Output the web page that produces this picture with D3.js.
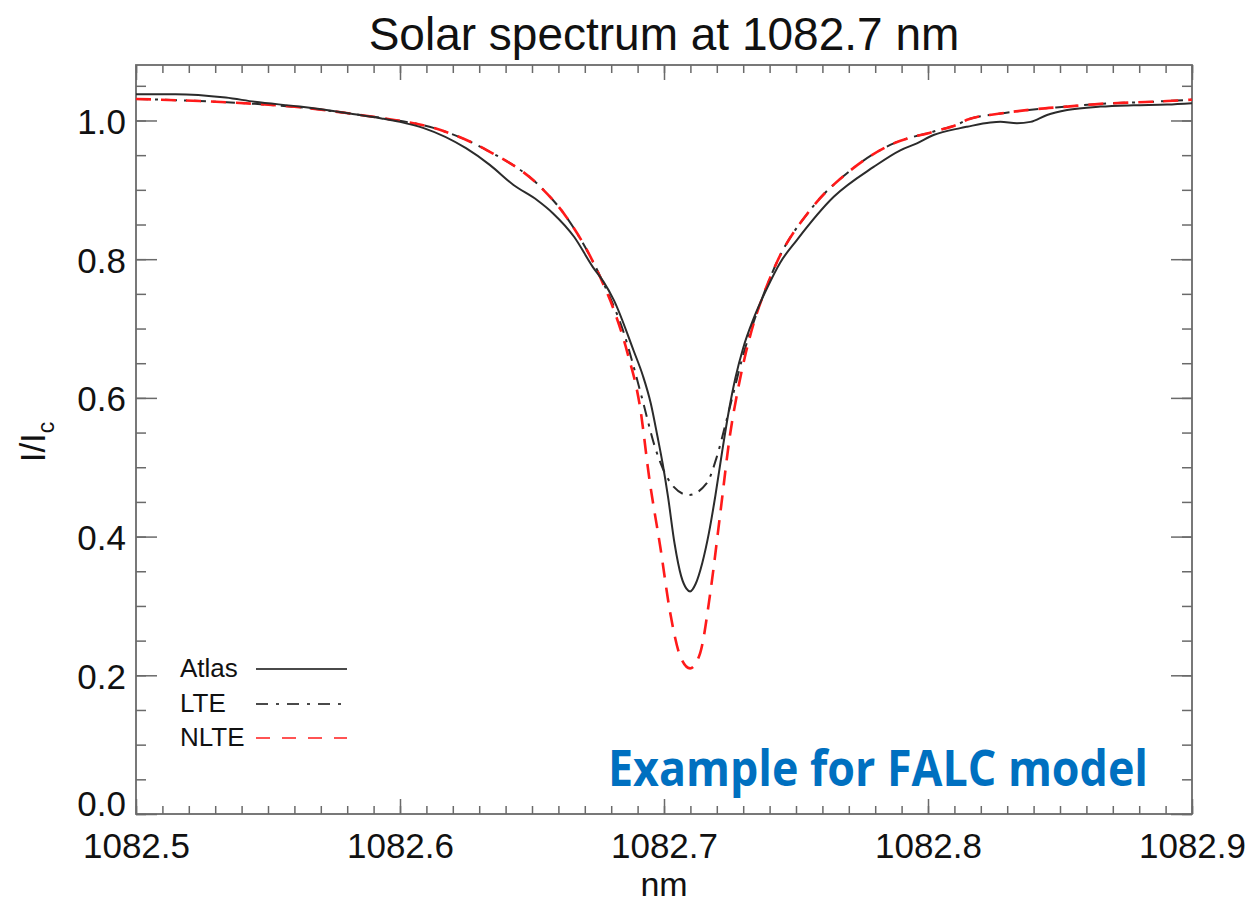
<!DOCTYPE html>
<html>
<head>
<meta charset="utf-8">
<script src="https://cdn.jsdelivr.net/npm/d3@7"></script>
<style>
  html, body { margin: 0; padding: 0; background: #fff; }
  svg { display: block; }
  text { font-family: "Liberation Sans", Arial, Helvetica, sans-serif; }
</style>
</head>
<body>
<svg id="chart" width="1254" height="904"></svg>
<script>
// ---------------- data ----------------
const titleText = "Solar spectrum at 1082.7 nm";
const xLabel = "nm";
const noteText = "Example for FALC model";
const xTickLabels = [1082.5, 1082.6, 1082.7, 1082.8, 1082.9];
const yTickLabels = [0.0, 0.2, 0.4, 0.6, 0.8, 1.0];
const seriesNames = ["Atlas", "LTE", "NLTE"];

const atlasWl = [1082.500, 1082.515, 1082.534, 1082.545, 1082.562, 1082.581, 1082.593, 1082.600,
  1082.609, 1082.625, 1082.634, 1082.643, 1082.652, 1082.658, 1082.666, 1082.673, 1082.677,
  1082.681, 1082.6885, 1082.6920, 1082.6950, 1082.6975, 1082.6995, 1082.7015, 1082.7040,
  1082.7065, 1082.7085, 1082.7099, 1082.7120, 1082.7145, 1082.7170, 1082.7195, 1082.7220,
  1082.7245, 1082.7270, 1082.7300, 1082.7340, 1082.7390, 1082.7440, 1082.7504, 1082.7643,
  1082.7794, 1082.7895, 1082.7958, 1082.8021, 1082.8122, 1082.8148, 1082.8236, 1082.8274,
  1082.8337, 1082.8388, 1082.8451, 1082.8527, 1082.8653, 1082.8779, 1082.8906, 1082.900];
const atlasI = [1.038, 1.038, 1.033, 1.027, 1.020, 1.010, 1.003, 0.998,
  0.989, 0.960, 0.936, 0.907, 0.885, 0.866, 0.832, 0.789, 0.768,
  0.741, 0.668, 0.632, 0.592, 0.545, 0.505, 0.458, 0.390,
  0.343, 0.325, 0.321, 0.332, 0.362, 0.405, 0.460, 0.522,
  0.580, 0.628, 0.672, 0.715, 0.758, 0.795, 0.828, 0.890,
  0.933, 0.957, 0.967, 0.979, 0.989, 0.991, 0.997, 0.998,
  0.996, 0.998, 1.008, 1.015, 1.020, 1.022, 1.023, 1.025];

const nlteWl = [1082.500, 1082.524, 1082.545, 1082.562, 1082.581, 1082.594, 1082.613, 1082.633,
  1082.653, 1082.663, 1082.673, 1082.677, 1082.681, 1082.686, 1082.691, 1082.6945, 1082.6986,
  1082.7024, 1082.7062, 1082.7099, 1082.7137, 1082.7175, 1082.7213, 1082.7251, 1082.7280,
  1082.7310, 1082.7340, 1082.7380, 1082.7428, 1082.7554, 1082.7706, 1082.7870, 1082.8021,
  1082.8122, 1082.8148, 1082.8274, 1082.8400, 1082.8527, 1082.8653, 1082.8779, 1082.8906, 1082.900];
const nlteI = [1.031, 1.028, 1.024, 1.019, 1.010, 1.003, 0.989, 0.957,
  0.905, 0.861, 0.797, 0.764, 0.727, 0.667, 0.585, 0.482, 0.385,
  0.289, 0.227, 0.210, 0.232, 0.318, 0.433, 0.549, 0.612,
  0.665, 0.708, 0.752, 0.796, 0.871, 0.928, 0.967, 0.984,
  0.996, 1.001, 1.010, 1.016, 1.020, 1.024, 1.026, 1.028, 1.030];

const lteWl = [1082.500, 1082.524, 1082.545, 1082.562, 1082.581, 1082.594, 1082.613, 1082.633,
  1082.653, 1082.663, 1082.673, 1082.677, 1082.681, 1082.6845, 1082.688, 1082.692, 1082.6965,
  1082.6998, 1082.7036, 1082.7093, 1082.7162, 1082.7200, 1082.7235, 1082.7263, 1082.7300,
  1082.7340, 1082.7380, 1082.7428, 1082.7554, 1082.7706, 1082.7870, 1082.8021, 1082.8122,
  1082.8148, 1082.8274, 1082.8400, 1082.8527, 1082.8653, 1082.8779, 1082.8906, 1082.900];
const lteI = [1.031, 1.028, 1.024, 1.019, 1.010, 1.003, 0.989, 0.957,
  0.905, 0.861, 0.797, 0.766, 0.732, 0.697, 0.652, 0.595, 0.530,
  0.496, 0.472, 0.460, 0.477, 0.515, 0.565, 0.607, 0.662,
  0.710, 0.752, 0.796, 0.871, 0.928, 0.967, 0.984, 0.996,
  1.001, 1.010, 1.016, 1.020, 1.024, 1.026, 1.028, 1.030];

// ---------------- layout ----------------
const svg = d3.select("#chart");
const margin = {left: 136, top: 65, right: 62, bottom: 90};
const W = 1254 - margin.left - margin.right;   // 1056
const H = 904 - margin.top - margin.bottom;    // 749

const x = d3.scaleLinear().domain([1082.5, 1082.9]).range([0, W]);
const y = d3.scaleLinear().domain([0, 1.08]).range([H, 0]);

const g = svg.append("g").attr("transform", `translate(${margin.left},${margin.top})`);

const axisColor = "#6a6a6a";
const xMinor = d3.range(0, 41).map(i => 1082.5 + i * 0.01);
const yMinor = d3.range(0, 22).map(i => i * 0.05);

function styleAxis(sel) {
  sel.select(".domain").remove();
  sel.selectAll(".tick line").attr("stroke", axisColor).attr("stroke-width", 1.5);
  sel.selectAll(".tick text").attr("fill", "#111").style("font-family", '"Liberation Sans", Arial, sans-serif');
}

// bottom
g.append("g").attr("transform", `translate(0,${H})`)
  .call(d3.axisBottom(x).tickValues(xMinor).tickSize(-8).tickFormat(""))
  .call(styleAxis);
g.append("g").attr("transform", `translate(0,${H})`)
  .call(d3.axisBottom(x).tickValues(xTickLabels).tickSize(-15).tickPadding(19).tickFormat(d3.format(".1f")))
  .call(styleAxis)
  .selectAll(".tick text").style("font-size", "35px");
// top
g.append("g")
  .call(d3.axisTop(x).tickValues(xMinor).tickSize(-8).tickFormat(""))
  .call(styleAxis);
g.append("g")
  .call(d3.axisTop(x).tickValues(xTickLabels).tickSize(-15).tickFormat(""))
  .call(styleAxis);
// left
g.append("g")
  .call(d3.axisLeft(y).tickValues(yMinor).tickSize(-10).tickFormat(""))
  .call(styleAxis);
g.append("g")
  .call(d3.axisLeft(y).tickValues(yTickLabels).tickSize(-21).tickPadding(10).tickFormat(d3.format(".1f")))
  .call(styleAxis)
  .selectAll(".tick text").style("font-size", "35px")
  .attr("dy", d => d === 0 ? "0.05em" : "0.37em");
// right
g.append("g").attr("transform", `translate(${W},0)`)
  .call(d3.axisRight(y).tickValues(yMinor).tickSize(-10).tickFormat(""))
  .call(styleAxis);
g.append("g").attr("transform", `translate(${W},0)`)
  .call(d3.axisRight(y).tickValues(yTickLabels).tickSize(-21).tickFormat(""))
  .call(styleAxis);

// frame
g.append("rect").attr("x", 0).attr("y", 0).attr("width", W).attr("height", H)
  .attr("fill", "none").attr("stroke", axisColor).attr("stroke-width", 1.8);

// ---------------- lines ----------------
const line = d3.line().x(d => x(d[0])).y(d => y(d[1])).curve(d3.curveMonotoneX);
svg.append("defs").append("clipPath").attr("id", "clip")
  .append("rect").attr("width", W).attr("height", H);
const plot = g.append("g").attr("clip-path", "url(#clip)");

const series = [
  {name: seriesNames[0], wl: atlasWl, v: atlasI, color: "#2b2b2b", dash: null, width: 2},
  {name: seriesNames[1], wl: lteWl, v: lteI, color: "#2b2b2b", dash: "12,7,3,7", width: 2},
  {name: seriesNames[2], wl: nlteWl, v: nlteI, color: "#ff1a1a", dash: "15,10", width: 2.6}
];
[series[1], series[2], series[0]].forEach(s => {
  plot.append("path")
    .datum(s.wl.map((w, i) => [w, s.v[i]]))
    .attr("d", line)
    .attr("fill", "none")
    .attr("stroke", s.color)
    .attr("stroke-width", s.width)
    .attr("stroke-dasharray", s.dash);
});

// ---------------- legend ----------------
const legY = [669, 704, 738];
series.forEach((s, i) => {
  svg.append("text").attr("x", 180).attr("y", legY[i] + 8)
    .style("font-size", "26px").attr("fill", "#111").text(s.name);
  svg.append("line").attr("x1", 256).attr("x2", 347).attr("y1", legY[i]).attr("y2", legY[i])
    .attr("stroke", s.color).attr("stroke-width", s.name === "NLTE" ? 2 : 1.8)
    .attr("stroke-dasharray", s.dash ? (s.name === "LTE" ? "12,8,3,8" : "14,12") : null)
    .attr("opacity", s.name === "NLTE" ? 0.75 : 0.85);
});

// ---------------- titles ----------------
svg.append("text").attr("x", 664).attr("y", 50).attr("text-anchor", "middle")
  .style("font-size", "46px").attr("fill", "#111").text(titleText);
svg.append("text").attr("x", 664).attr("y", 896).attr("text-anchor", "middle")
  .style("font-size", "34px").attr("fill", "#111").text(xLabel);

const yl = svg.append("text").attr("transform", "translate(45,442) rotate(-90)")
  .attr("text-anchor", "middle").style("font-size", "35px").attr("fill", "#111");
yl.append("tspan").text("I/I");
yl.append("tspan").attr("dy", 9).style("font-size", "23px").text("c");

svg.append("text").attr("x", 608).attr("y", 786)
  .attr("textLength", 540).attr("lengthAdjust", "spacingAndGlyphs")
  .style("font-family", '"Open Sans", Lato, sans-serif').style("font-weight", 700)
  .style("font-size", "50px").attr("fill", "#0070c0").text(noteText);
</script>
</body>
</html>
